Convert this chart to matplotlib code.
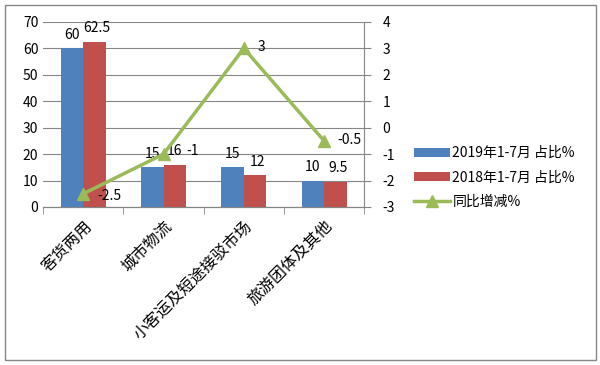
import matplotlib.pyplot as plt
import numpy as np

plt.rcParams['font.family'] = ['Noto Sans CJK SC', 'DejaVu Sans']
plt.rcParams['axes.unicode_minus'] = False

categories = ['客货两用', '城市物流', '小客运及短途接驳市场', '旅游团体及其他']
share_2019 = [60, 15, 15, 10]
share_2018 = [62.5, 16, 12, 9.5]
yoy_change = [-2.5, -1, 3, -0.5]
labels_2019 = ['60', '15', '15', '10']
labels_2018 = ['62.5', '16', '12', '9.5']
labels_yoy = ['-2.5', '-1', '3', '-0.5']

fig = plt.figure(figsize=(6, 3.65), dpi=100)
ax = fig.add_axes([0.072, 0.433, 0.535, 0.507])
ax2 = ax.twinx()

x = np.arange(len(categories))
w = 0.28
b1 = ax.bar(x - w / 2, share_2019, w, color='#4F81BD', label='2019年1-7月 占比%', zorder=3)
b2 = ax.bar(x + w / 2, share_2018, w, color='#C0504D', label='2018年1-7月 占比%', zorder=3)
ln, = ax2.plot(x, yoy_change, color='#9BBB59', lw=2.5, marker='^', ms=9,
               label='同比增减%', zorder=4)

for xi, v, t in zip(x, share_2019, labels_2019):
    ax.text(xi - w / 2, v + 2.5, t, ha='center', va='bottom', fontsize=10)
dx18 = [0.03, -0.01, 0.03, 0.03]
for xi, v, t, d in zip(x, share_2018, labels_2018, dx18):
    ax.text(xi + w / 2 + d, v + 2.5, t, ha='center', va='bottom', fontsize=10)
offs = [(0.17, -0.1), (0.28, 0.1), (0.17, 0.05), (0.17, 0.05)]
for xi, v, t, (dx, dy) in zip(x, yoy_change, labels_yoy, offs):
    ax2.text(xi + dx, v + dy, t, ha='left', va='center', fontsize=10)

ax.set_xlim(-0.5, 3.5)
ax.set_ylim(0, 70)
ax.set_yticks(range(0, 71, 10))
ax2.set_ylim(-3, 4)
ax2.set_yticks(range(-3, 5))
ax.grid(axis='y', color='#868686', lw=0.8, zorder=0)
ax.set_axisbelow(True)

ax.set_xticks(x)
ax.set_xticklabels(categories, rotation=45, ha='right', rotation_mode='anchor', fontsize=11.5)
ax.set_xticks(np.arange(-0.5, 4, 1), minor=True)
ax.tick_params(axis='x', which='major', length=0, pad=8)
ax.tick_params(axis='x', which='minor', length=5, color='#868686')
ax.tick_params(axis='y', length=0, labelsize=10)
ax2.tick_params(axis='y', length=5, color='#868686', labelsize=10, pad=8)

for a in (ax, ax2):
    for s in ['top', 'left', 'right']:
        a.spines[s].set_visible(False)
    a.spines['bottom'].set_color('#868686')
ax2.spines['right'].set_visible(True)
ax2.spines['right'].set_color('#868686')

fig.legend(handles=[b1, b2, ln], loc='upper left', bbox_to_anchor=(0.68, 0.615),
           frameon=False, fontsize=10, handlelength=2.6, handleheight=0.6,
           labelspacing=0.75, handletextpad=0.2, borderaxespad=0)

fig.patches.append(plt.Rectangle((0.008, 0.015), 0.985, 0.972, transform=fig.transFigure,
                                 fill=False, edgecolor='#868686', lw=1))
fig.savefig('out.png', dpi=100)
